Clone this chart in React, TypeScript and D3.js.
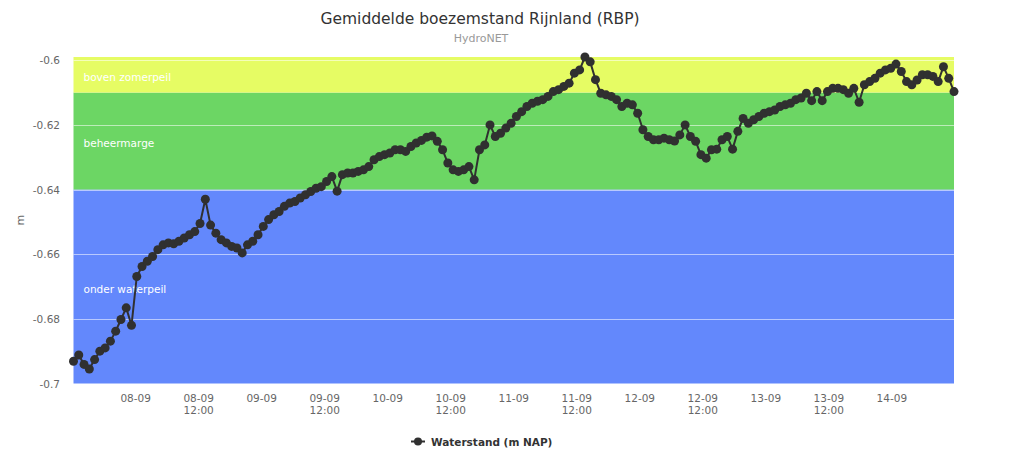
import React from "react";
import * as d3 from "d3";

// ---- data ----
const chartTitle = "Gemiddelde boezemstand Rijnland (RBP)";
const chartSubtitle = "HydroNET";
const yAxisTitle = "m";
const seriesName = "Waterstand (m NAP)";

const startTime = Date.UTC(2015, 8, 7, 12, 10);
const endTime = Date.UTC(2015, 8, 14, 11, 50);

const yTickValues = [-0.7, -0.68, -0.66, -0.64, -0.62, -0.6];

const bandNames = ["onder waterpeil", "beheermarge", "boven zomerpeil"];
const bandFrom = [-1.0, -0.64, -0.61];
const bandTo = [-0.64, -0.61, -0.5];

// hourly readings of the water level (m NAP)
const waterLevels = [
  -0.6931, -0.6912, -0.6941, -0.6955, -0.6926, -0.69, -0.689, -0.6869, -0.6838, -0.6802,
  -0.6766, -0.682, -0.6669, -0.6638, -0.6622, -0.6607, -0.6586, -0.6571, -0.6565, -0.6568,
  -0.656, -0.655, -0.654, -0.653, -0.6505, -0.643, -0.651, -0.6535, -0.6555, -0.6565,
  -0.6576, -0.6581, -0.6596, -0.6571, -0.656, -0.654, -0.6514, -0.6493, -0.6478, -0.6468,
  -0.6452, -0.6442, -0.6437, -0.6426, -0.6416, -0.6406, -0.6396, -0.6391, -0.6375, -0.636,
  -0.6405, -0.6354, -0.6349, -0.6349, -0.6344, -0.6339, -0.6329, -0.6308, -0.6298, -0.6292,
  -0.6287, -0.6277, -0.6277, -0.6282, -0.6267, -0.6256, -0.6248, -0.6238, -0.6234, -0.6251,
  -0.6277, -0.6318, -0.6339, -0.6344, -0.6339, -0.6329, -0.637, -0.6277, -0.6262, -0.62,
  -0.6236, -0.6226, -0.621, -0.6195, -0.6174, -0.6159, -0.6143, -0.6133, -0.6127, -0.6122,
  -0.6112, -0.6097, -0.6091, -0.6081, -0.6071, -0.604, -0.603, -0.599, -0.6005, -0.606,
  -0.6102, -0.6107, -0.6112, -0.6122, -0.6143, -0.6133, -0.6138, -0.6164, -0.6215, -0.6236,
  -0.6246, -0.6246, -0.6241, -0.6246, -0.625, -0.6231, -0.62, -0.6236, -0.6251, -0.6292,
  -0.6303, -0.6277, -0.6275, -0.6246, -0.6236, -0.6275, -0.622, -0.618, -0.6195, -0.6184,
  -0.6174, -0.6164, -0.6159, -0.6154, -0.6143, -0.6138, -0.6133, -0.6122, -0.6117, -0.6102,
  -0.6125, -0.6097, -0.6125, -0.6097, -0.6087, -0.6087, -0.6091, -0.6102, -0.6087, -0.613,
  -0.6076, -0.6066, -0.6056, -0.604, -0.603, -0.6025, -0.6012, -0.6035, -0.6066, -0.6076,
  -0.6061, -0.6045, -0.6045, -0.605, -0.6066, -0.602, -0.6056, -0.6097,
];

// ---- layout / style ----
const W = 1024;
const H = 467;
const plotLeft = 73.5;
const plotRight = 954;
const plotTop = 57;
const plotBottom = 383.5;
const yMin = -0.7;
const yMax = -0.599;
const bandColors = ["#6388fc", "#6cd664", "#e6fc64"];
const font = "'DejaVu Sans', Verdana, sans-serif";
const seriesColor = "#303030";
const markerRadius = 4.5;

export default function App() {
  const n = waterLevels.length;
  const times = waterLevels.map((_, i) => new Date(startTime + (i * (endTime - startTime)) / (n - 1)));

  const x = d3.scaleUtc().domain([new Date(startTime), new Date(endTime)]).range([plotLeft, plotRight]);
  const y = d3.scaleLinear().domain([yMin, yMax]).range([plotBottom, plotTop]);

  const xTicks = x.ticks(d3.utcHour.every(12)!);
  const fmtDay = d3.utcFormat("%d-%m");
  const fmtHour = d3.utcFormat("%H:%M");

  const line = d3
    .line<number>()
    .x((_, i) => x(times[i]))
    .y((d) => y(d));

  const clampY = (v: number) => Math.max(yMin, Math.min(yMax, v));

  return (
    <div style={{ position: "absolute", left: 0, top: 0, width: W, height: H, background: "#fff" }}>
      <svg width={W} height={H} style={{ display: "block", fontFamily: font }}>
        <rect x={0} y={0} width={W} height={H} fill="#fff" />
        <text x={480} y={23.5} textAnchor="middle" fontSize={15.5} fill="#333">
          {chartTitle}
        </text>
        <text x={481} y={41.5} textAnchor="middle" fontSize={11} fill="#999">
          {chartSubtitle}
        </text>

        {/* plot bands */}
        {bandNames.map((name, i) => {
          const y0 = y(clampY(bandTo[i]));
          const y1 = y(clampY(bandFrom[i]));
          return <rect key={name} x={plotLeft} y={y0} width={plotRight - plotLeft} height={y1 - y0} fill={bandColors[i]} />;
        })}

        {/* grid lines */}
        {yTickValues.map((v) => (
          <line
            key={"g" + v}
            x1={plotLeft}
            x2={plotRight}
            y1={Math.round(y(v)) + 0.5}
            y2={Math.round(y(v)) + 0.5}
            stroke="#ffffff"
            strokeOpacity={0.55}
            strokeWidth={1}
          />
        ))}

        {/* band labels, centred in the visible part of each band */}
        {bandNames.map((name, i) => {
          const top = y(clampY(bandTo[i]));
          const bottom = y(clampY(bandFrom[i]));
          return (
            <text key={"l" + name} x={83.5} y={(top + bottom) / 2 + 6} fontSize={10.5} fill="#ffffff">
              {name}
            </text>
          );
        })}

        {/* y axis labels */}
        {yTickValues.map((v) => (
          <text key={"yl" + v} x={60} y={y(v) + 4} textAnchor="end" fontSize={10.5} fill="#666">
            {String(+v.toFixed(2))}
          </text>
        ))}
        <text transform={`translate(24,${(plotTop + plotBottom) / 2}) rotate(-90)`} textAnchor="middle" fontSize={11} fill="#666">
          {yAxisTitle}
        </text>

        {/* x axis labels */}
        {xTicks.map((t) => {
          const isNoon = t.getUTCHours() === 12;
          return (
            <text key={"x" + t.getTime()} x={x(t)} y={401.5} textAnchor="middle" fontSize={10.5} fill="#666">
              <tspan x={x(t)}>{fmtDay(t)}</tspan>
              {isNoon && (
                <tspan x={x(t)} dy={12.5}>
                  {fmtHour(t)}
                </tspan>
              )}
            </text>
          );
        })}

        {/* series */}
        <path d={line(waterLevels) || ""} fill="none" stroke={seriesColor} strokeWidth={2} strokeLinejoin="round" />
        {waterLevels.map((v, i) => (
          <circle key={"p" + i} cx={x(times[i])} cy={y(v)} r={markerRadius} fill={seriesColor} />
        ))}

        {/* legend */}
        <line x1={411} x2={425} y1={441.5} y2={441.5} stroke={seriesColor} strokeWidth={2} />
        <circle cx={418} cy={441.5} r={4} fill={seriesColor} />
        <text x={431} y={445.5} fontSize={10.5} fontWeight="bold" fill="#333">
          {seriesName}
        </text>
      </svg>
    </div>
  );
}
